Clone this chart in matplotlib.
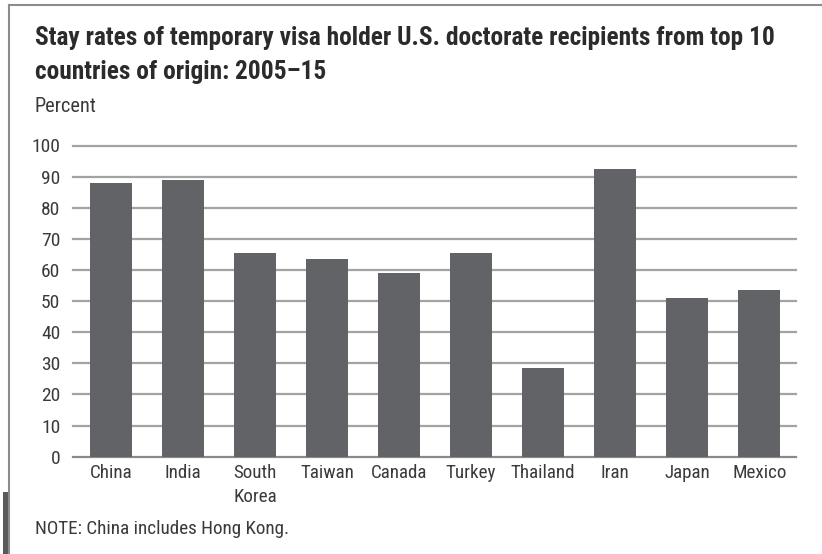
import matplotlib.pyplot as plt
from matplotlib.patches import Rectangle

countries = ["China", "India", "South\nKorea", "Taiwan", "Canada", "Turkey", "Thailand", "Iran", "Japan", "Mexico"]
stay_rates = [88, 89, 65.5, 63.5, 59, 65.5, 28.5, 92.5, 51, 53.5]
y_ticks = [0, 10, 20, 30, 40, 50, 60, 70, 80, 90, 100]

FONT = ["Roboto Condensed", "DejaVu Sans"]
BAR_COLOR = "#616366"
GRID_COLOR = "#a3a3a3"
TEXT_COLOR = "#3a3a3a"

W, H = 822, 554
fig = plt.figure(figsize=(W / 100, H / 100), dpi=100)

ax = fig.add_axes([72.7 / W, 1 - 456.7 / H, (796 - 72.7) / W, (456.7 - 145.5) / H])
x = list(range(len(countries)))
ax.bar(x, stay_rates, width=0.58, color=BAR_COLOR, zorder=3)
ax.set_xlim(-0.53, 9.51)
ax.set_ylim(0, 100)
ax.set_yticks(y_ticks)
ax.set_yticklabels([str(v) for v in y_ticks], fontfamily=FONT, fontsize=14, color=TEXT_COLOR)
ax.set_xticks(x)
ax.set_xticklabels(countries, fontfamily=FONT, fontsize=13.7, color=TEXT_COLOR, linespacing=1.45, va="top")
ax.tick_params(axis="both", length=0)
ax.tick_params(axis="y", pad=9)
ax.tick_params(axis="x", pad=5)
for v in y_ticks:
    ax.axhline(v, color=GRID_COLOR if v else "#8a8a8a", linewidth=1.6, zorder=1, clip_on=False)
for side in ax.spines.values():
    side.set_visible(False)

# title, unit, note
title_kw = dict(fontfamily=FONT, fontsize=18.3, fontweight="bold", color="#2b2b2b", va="center")
fig.text(35 / W, 1 - 38 / H, "Stay rates of temporary visa holder U.S. doctorate recipients from top 10", **title_kw)
fig.text(35 / W, 1 - 72 / H, "countries of origin: 2005\u201315", **title_kw)
fig.text(35 / W, 1 - 106 / H, "Percent", fontfamily=FONT, fontsize=14.7, color=TEXT_COLOR, va="center")
fig.text(35 / W, 1 - 529 / H, "NOTE: China includes Hong Kong.", fontfamily=FONT, fontsize=13.8,
         color=TEXT_COLOR, va="center")

# frame around the figure
fig.add_artist(plt.Line2D([9 / W, 9 / W], [0, 1 - 5 / H], color="#8c8c8c", linewidth=1.5))
fig.add_artist(plt.Line2D([9 / W, 1], [1 - 5 / H, 1 - 5 / H], color="#8c8c8c", linewidth=1.5))
fig.add_artist(Rectangle((3 / W, 0), 6 / W, (H - 492) / H, transform=fig.transFigure,
                         color="#5a5a5a", linewidth=0))

fig.savefig("out.png", dpi=100)
